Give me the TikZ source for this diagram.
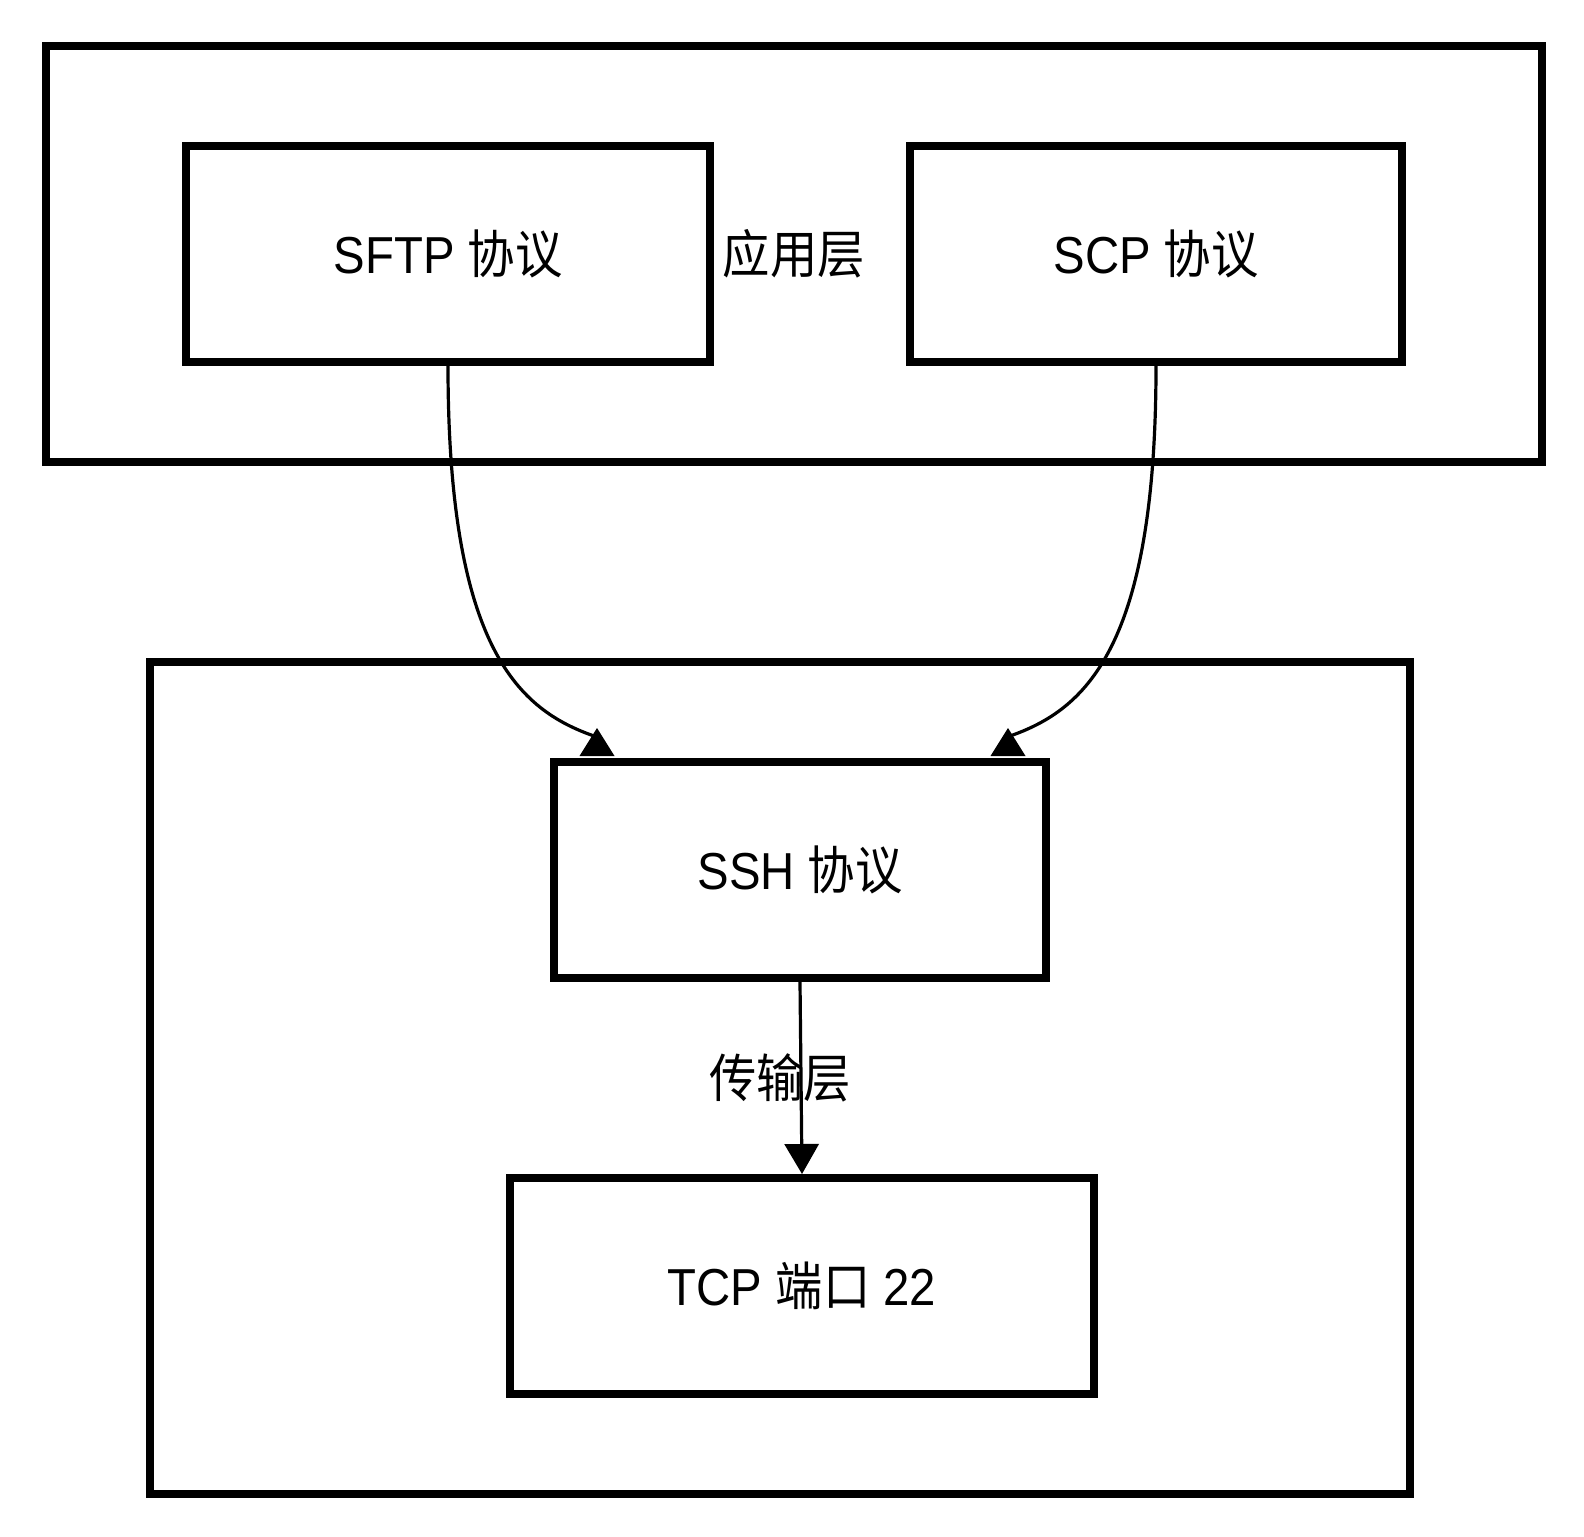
\documentclass[tikz,border=0pt]{standalone}
\usepackage{fontspec}
\usepackage{graphicx}
\setmainfont{Liberation Sans}
\newfontfamily\cjk{Noto Sans CJK SC}
\usetikzlibrary{arrows.meta}
\newcommand{\narrow}[1]{\scalebox{0.91}[1]{#1}}

\begin{document}
\begin{tikzpicture}[x=0.5pt, y=-0.5pt, every node/.style={font=\fontsize{26pt}{31pt}\selectfont}]
  \tikzstyle{layer}=[rectangle, draw=black, line width=4pt, inner sep=0pt]
  \tikzstyle{box}=[rectangle, draw=black, fill=white, line width=4pt, minimum height=108pt, align=center]
  \tikzstyle{link}=[line width=1.6pt, draw=black]
  \tikzstyle{tipup}=[fill=black]
  \useasboundingbox (0,0) rectangle (1584,1536);
  % the two layers
  \node[layer, minimum width=747.85pt, minimum height=207.85pt] (app) at (793.85,253.85) {\narrow{\cjk 应用层}};
  \node[layer, minimum width=630pt, minimum height=416pt] (trans) at (780,1078) {\narrow{\cjk 传输层}};
  % protocols
  \node[box, minimum width=262pt] (sftp) at (448,254) {\narrow{SFTP {\cjk 协议}}};
  \node[box, minimum width=246pt] (scp) at (1156,254) {\narrow{SCP {\cjk 协议}}};
  \node[box, minimum width=246pt] (ssh) at (800,870) {\narrow{SSH {\cjk 协议}}};
  \node[box, minimum width=292pt] (tcp) at (802,1286) {\narrow{TCP {\cjk 端口} 22}};
  % arrows into ssh
  \coordinate (inL) at ([xshift=-103pt, yshift=11pt]ssh.north);
  \coordinate (inR) at ([xshift=105pt, yshift=11pt]ssh.north);
  \coordinate (tipL) at ([xshift=-101.5pt, yshift=15pt]ssh.north);
  \coordinate (tipR) at ([xshift=104pt, yshift=15pt]ssh.north);
  \draw[link] (sftp.south) .. controls (448,650) and (520,710) .. (inL);
  \draw[link] (scp.south) .. controls (1156,650) and (1084,710) .. (inR);
  \fill[tipup] (tipL) -- ++(-17.5,28) -- ++(35,0) -- cycle;
  \fill[tipup] (tipR) -- ++(-17.5,28) -- ++(35,0) -- cycle;
  \draw[link, -{Triangle[length=15pt, width=17pt]}] (ssh.south) -- (tcp.north);
\end{tikzpicture}
\end{document}
